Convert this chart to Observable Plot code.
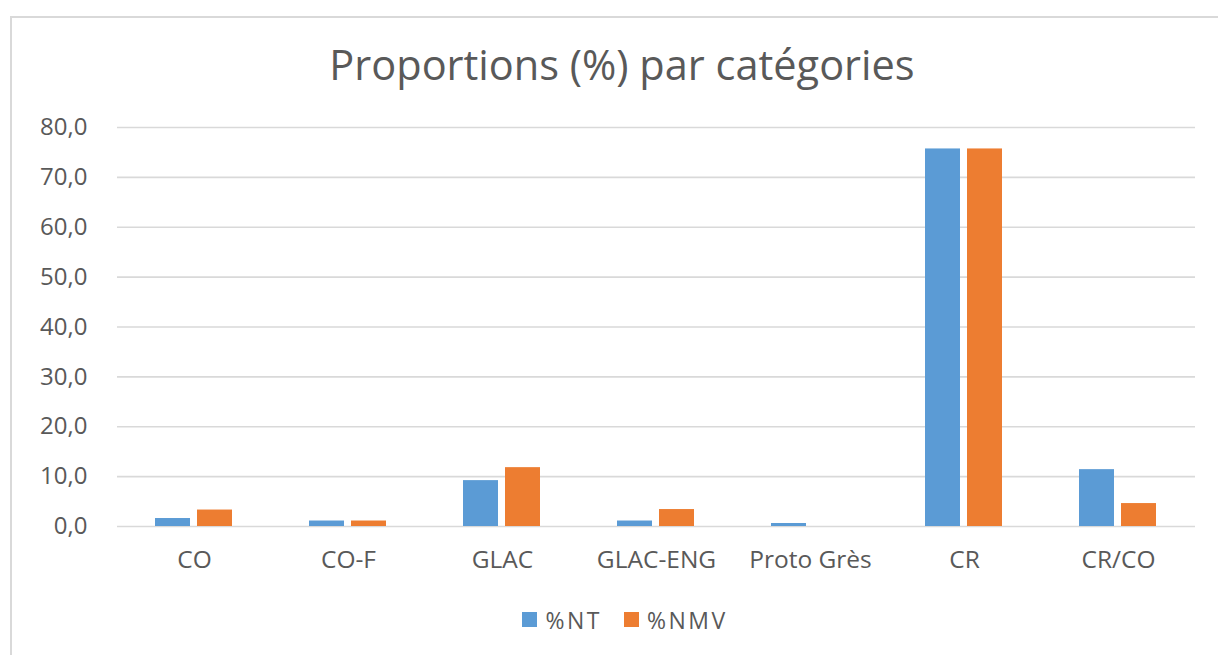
<!DOCTYPE html>
<html>
<head>
<meta charset="utf-8">
<script src="https://cdn.jsdelivr.net/npm/d3@7"></script>
<script src="https://cdn.jsdelivr.net/npm/@observablehq/plot@0.6"></script>
<style>
  html, body { margin: 0; padding: 0; background: #fff; width: 1218px; height: 655px; overflow: hidden; }
  body { font-family: "Open Sans", Lato, sans-serif; color: #595959; position: relative; font-variant-ligatures: none; }
  #frame { position: absolute; left: 10px; top: 16px; width: 1300px; height: 700px; border-left: 2px solid #d9d9d9; border-top: 2px solid #d9d9d9; box-sizing: border-box; }
  #title { position: absolute; left: 0; width: 1244px; top: 36px; text-align: center; font-size: 41.5px; color: #595959; }
  #chart { position: absolute; left: 0; top: 100px; }
  #legend { position: absolute; left: 0; width: 1250px; top: 602px; text-align: center; font-size: 23px; letter-spacing: 2.5px; color: #595959; }
  .item { display: inline-flex; align-items: center; margin: 0 11px; }
  .sw { width: 15px; height: 15px; display: inline-block; margin-right: 8px; }
</style>
</head>
<body>
<div id="frame"></div>
<div id="title">Proportions (%) par catégories</div>
<div id="chart"></div>
<div id="legend"></div>
<script>
const categories = ["CO", "CO-F", "GLAC", "GLAC-ENG", "Proto Grès", "CR", "CR/CO"];
const series = ["%NT", "%NMV"];
const valuesNT  = [1.6, 1.1, 9.2, 1.1, 0.6, 75.7, 11.4];
const valuesNMV = [3.3, 1.1, 11.8, 3.4, 0.0, 75.7, 4.6];
const colors = ["#5b9bd5", "#ed7d31"];
const yTicks = [0, 10, 20, 30, 40, 50, 60, 70, 80];

const data = [];
categories.forEach((c, i) => {
  data.push({category: c, series: series[0], value: valuesNT[i]});
  data.push({category: c, series: series[1], value: valuesNMV[i]});
});

const fmt = d => d.toFixed(1).replace(".", ",");

const chart = Plot.plot({
  width: 1218,
  height: 490,
  marginLeft: 114,
  marginRight: 21,
  marginTop: 27,
  marginBottom: 64,
  style: { fontFamily: "'Open Sans', Lato, sans-serif", color: "#595959", background: "transparent" },
  fx: { domain: categories, paddingInner: 0, paddingOuter: 0, label: null },
  x: { domain: series, paddingInner: 0.163, paddingOuter: 0.879, axis: null },
  y: { domain: [0, 80], label: null, axis: null },
  color: { domain: series, range: colors },
  marks: [
    Plot.gridY(yTicks, { stroke: "#d9d9d9", strokeOpacity: 1, strokeWidth: 1.6 }),
    Plot.barY(data, { fx: "category", x: "series", y: "value", fill: "series" }),
    Plot.axisY(yTicks, { tickSize: 0, tickPadding: 30, tickFormat: fmt, fontSize: 24, label: null, fill: "#595959" }),
    Plot.axisFx({ anchor: "bottom", tickSize: 0, tickPadding: 24, fontSize: 24.5, label: null, fill: "#595959" })
  ]
});
document.getElementById("chart").appendChild(chart);

const legend = document.getElementById("legend");
series.forEach((s, i) => {
  const item = document.createElement("span");
  item.className = "item";
  const sw = document.createElement("span");
  sw.className = "sw";
  sw.style.background = colors[i];
  item.appendChild(sw);
  item.appendChild(document.createTextNode(s));
  legend.appendChild(item);
});
</script>
</body>
</html>
